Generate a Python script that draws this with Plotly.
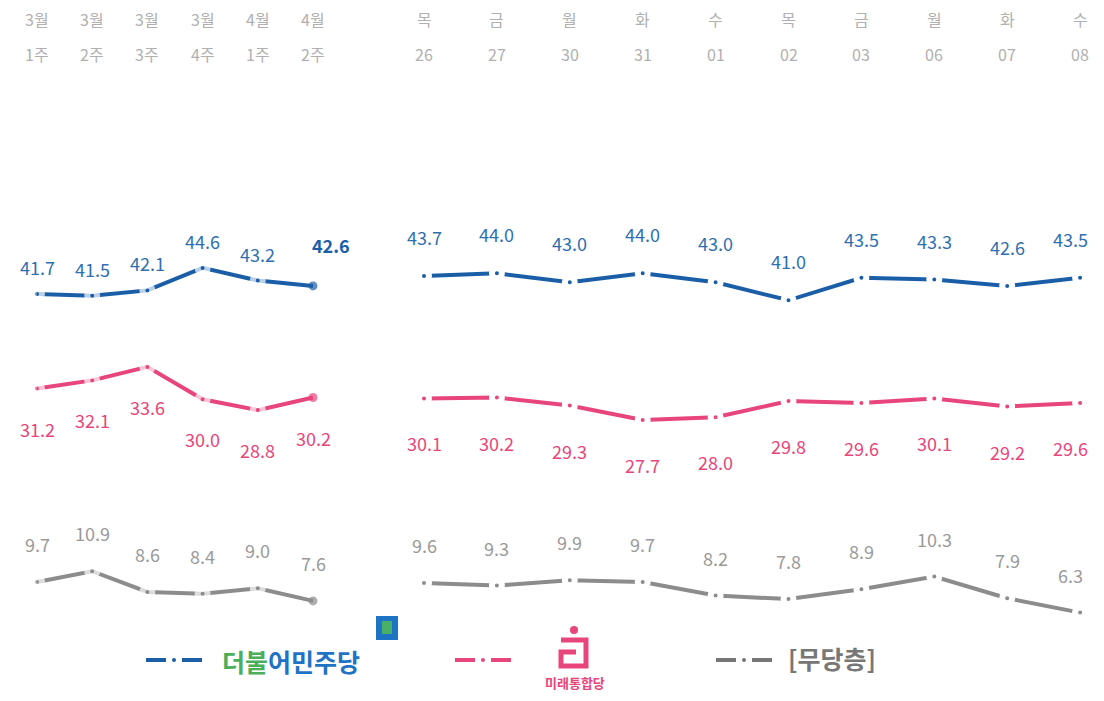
import plotly.graph_objects as go

# ---- data ----
weeks_top = ["3월", "3월", "3월", "3월", "4월", "4월"]
weeks_bot = ["1주", "2주", "3주", "4주", "1주", "2주"]
days_top = ["목", "금", "월", "화", "수", "목", "금", "월", "화", "수"]
days_bot = ["26", "27", "30", "31", "01", "02", "03", "06", "07", "08"]

dem_weekly = [41.7, 41.5, 42.1, 44.6, 43.2, 42.6]
upp_weekly = [31.2, 32.1, 33.6, 30.0, 28.8, 30.2]
ind_weekly = [9.7, 10.9, 8.6, 8.4, 9.0, 7.6]

dem_daily = [43.7, 44.0, 43.0, 44.0, 43.0, 41.0, 43.5, 43.3, 42.6, 43.5]
upp_daily = [30.1, 30.2, 29.3, 27.7, 28.0, 29.8, 29.6, 30.1, 29.2, 29.6]
ind_daily = [9.6, 9.3, 9.9, 9.7, 8.2, 7.8, 8.9, 10.3, 7.9, 6.3]

BLUE = "#1b5ea8"
BLUE_TXT = "#2f6fb0"
PINK = "#e8457a"
GRAY = "#8c8c8c"
GRAY_TXT = "#9a9a9a"
FONT = "Noto Sans CJK KR"

OFF = 8  # page body margin
W, H = 1104 - 2 * OFF, 701 - 2 * OFF
fig = go.Figure()

xw = list(range(len(dem_weekly)))
xd = list(range(len(dem_daily)))

series = [
    (dem_weekly, dem_daily, BLUE, BLUE_TXT, 27, 39),
    (upp_weekly, upp_daily, PINK, PINK, -40, -45),
    (ind_weekly, ind_daily, GRAY, GRAY_TXT, 38, 38),
]

annotations = []
for wk, dy, col, tcol, offw, offd in series:
    n = len(wk)
    sizes = [10] * (n - 1) + [9]
    lws = [6] * (n - 1) + [0]
    fig.add_trace(go.Scatter(
        x=xw, y=wk, mode="lines+markers", xaxis="x", yaxis="y",
        line=dict(color=col, width=4),
        marker=dict(color=col, size=sizes, line=dict(color="white", width=lws)),
        showlegend=False, hoverinfo="skip"))
    fig.add_trace(go.Scatter(
        x=xd, y=dy, mode="lines+markers", xaxis="x2", yaxis="y",
        line=dict(color=col, width=4),
        marker=dict(color=col, size=10, line=dict(color="white", width=6)),
        showlegend=False, hoverinfo="skip"))
    for i, v in enumerate(wk):
        bold_last = (i == n - 1) and col == BLUE
        annotations.append(dict(
            x=i, y=v, xref="x", yref="y", text=(f"<b>{v:.1f}</b>" if bold_last else f"{v:.1f}"),
            showarrow=False, yanchor="middle", yshift=offw + (14 if bold_last else 0),
            xshift=(18 if bold_last else 0),
            font=dict(family=FONT, size=18, color=(BLUE if bold_last else tcol))))
    m = len(dy)
    for i, v in enumerate(dy):
        annotations.append(dict(
            x=i, y=v, xref="x2", yref="y", text=f"{v:.1f}",
            showarrow=False, yanchor="middle", yshift=offd,
            xshift=(-10 if i == m - 1 else 0),
            font=dict(family=FONT, size=18, color=tcol)))

def py(y):
    return 1 - (y - OFF) / H

def px(x):
    return (x - OFF) / W

# top category labels
for xr, tops, bots in (("x", weeks_top, weeks_bot), ("x2", days_top, days_bot)):
    for i, (a, b) in enumerate(zip(tops, bots)):
        for txt, yy in ((a, py(19)), (b, py(54))):
            annotations.append(dict(x=i, y=yy, xref=xr, yref="paper", text=txt, showarrow=False,
                                    yanchor="middle", font=dict(family=FONT, size=16, color="#b0b0b0")))

# ---- custom legend ----
shapes = []
def sample(x0, y, col):
    shapes.append(dict(type="line", xref="paper", yref="paper", x0=px(x0), x1=px(x0 + 20),
                       y0=py(y), y1=py(y), line=dict(color=col, width=4)))
    shapes.append(dict(type="circle", xref="paper", yref="paper", x0=px(x0 + 26), x1=px(x0 + 30),
                       y0=py(y + 2), y1=py(y - 2), fillcolor=col, line=dict(width=0)))
    shapes.append(dict(type="line", xref="paper", yref="paper", x0=px(x0 + 36), x1=px(x0 + 56),
                       y0=py(y), y1=py(y), line=dict(color=col, width=4)))

sample(146, 660, BLUE)
sample(455, 660, PINK)
sample(716, 660, "#777777")

annotations.append(dict(x=px(220), y=py(661), xref="paper", yref="paper", xanchor="left", yanchor="middle",
                        showarrow=False,
                        text='<b><span style="color:#4aae5a">더불</span><span style="color:#1f73c4">어민주당</span></b>',
                        font=dict(family=FONT, size=25)))
# democratic party flag logo
shapes.append(dict(type="rect", xref="paper", yref="paper", x0=px(376), x1=px(398), y0=py(640), y1=py(616),
                   fillcolor="#1f73c4", line=dict(width=0)))
shapes.append(dict(type="rect", xref="paper", yref="paper", x0=px(382), x1=px(392), y0=py(634), y1=py(621),
                   fillcolor="#49b06a", line=dict(width=0)))
# united future party logo
shapes.append(dict(type="path", xref="paper", yref="paper",
                   path=(f"M {px(561)} {py(640)} L {px(586)} {py(640)} L {px(586)} {py(666)} "
                         f"L {px(561)} {py(666)} L {px(561)} {py(652)} L {px(576)} {py(652)}"),
                   line=dict(color=PINK, width=5)))
shapes.append(dict(type="circle", xref="paper", yref="paper", x0=px(570), x1=px(578), y0=py(634), y1=py(626),
                   fillcolor=PINK, line=dict(width=0)))
annotations.append(dict(x=px(575), y=py(682), xref="paper", yref="paper", xanchor="center", yanchor="middle",
                        showarrow=False, text="<b>미래통합당</b>",
                        font=dict(family=FONT, size=13, color=PINK)))
annotations.append(dict(x=px(786), y=py(658), xref="paper", yref="paper", xanchor="left", yanchor="middle",
                        showarrow=False, text="<b>[무당층]</b>",
                        font=dict(family=FONT, size=25, color="#777777")))

# y mapping (reference pixels): y_px = 669.3 - 9 * value
A = 669.3 - OFF
y_top = A / 9
y_bot = (A - H) / 9
sx_w = 55.2
sx_d = 72.9
x0w, x0d, dsplit = 37 - OFF, 424 - OFF, 380 - OFF
dom_w = [0, (dsplit - 30) / W]
dom_d = [dsplit / W, 1]

hidden = dict(showgrid=False, zeroline=False, showticklabels=False, showline=False, ticks="")
fig.update_layout(
    width=W, height=H, margin=dict(l=0, r=0, t=0, b=0),
    paper_bgcolor="white", plot_bgcolor="white",
    xaxis=dict(domain=dom_w, range=[-x0w / sx_w, (dsplit - 30 - x0w) / sx_w], **hidden),
    xaxis2=dict(domain=dom_d, range=[-(x0d - dsplit) / sx_d, (W - x0d) / sx_d], **hidden),
    yaxis=dict(range=[y_bot, y_top], **hidden),
    annotations=annotations, shapes=shapes,
)

fig.write_html("out.html")
